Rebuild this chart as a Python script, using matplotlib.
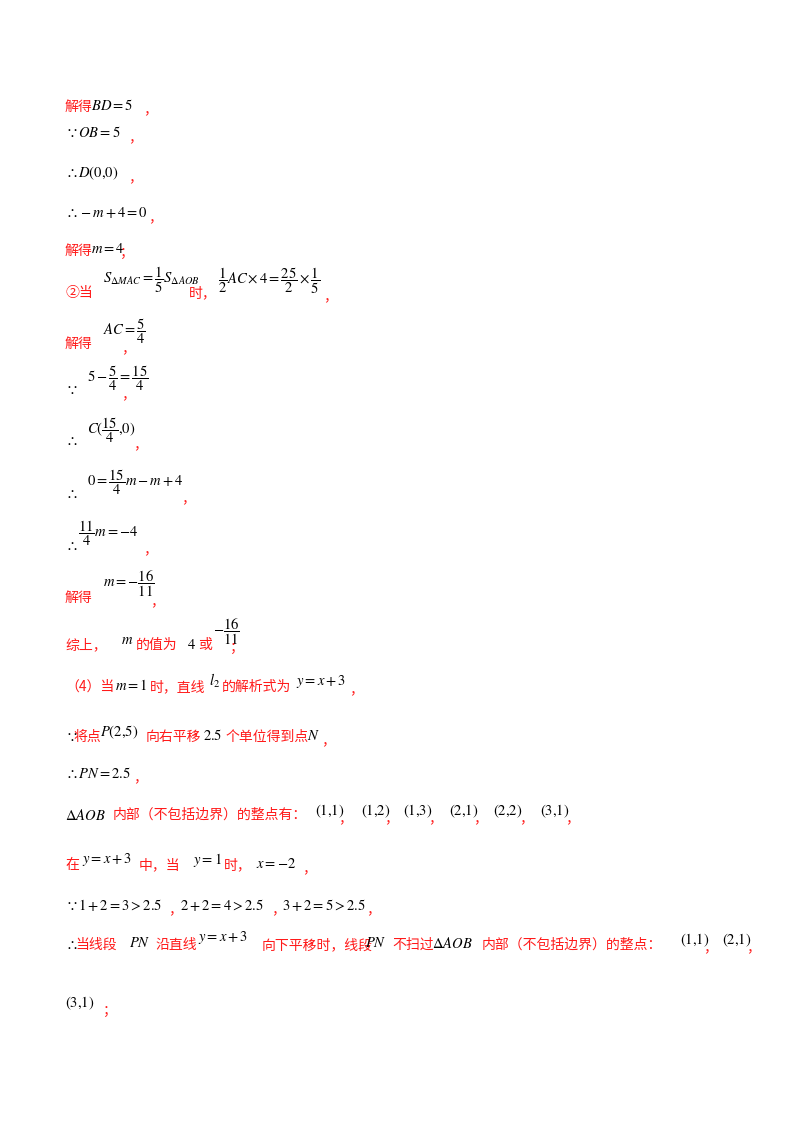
import matplotlib
matplotlib.use("Agg")
import matplotlib.pyplot as plt

plt.rcParams['mathtext.fontset'] = 'stix'
plt.rcParams['font.family'] = ['Noto Sans CJK SC', 'DejaVu Sans']

R = '#ff1a1a'
K = 'black'

# each segment: x px, y px, text, colour
segments = [
    (65, 107, "解得", R), (91, 105, r"$BD=5$", K), (143, 109, "，", R),
    (65, 133, r"$\because OB=5$", K), (128, 137, "，", R),
    (65, 173, r"$\therefore D(0{,}0)$", K), (128, 177, "，", R),
    (65, 213, r"$\therefore -m+4=0$", K), (148, 217, "，", R),
    (65, 251, "解得", R), (91, 249, r"$m=4$", K), (120, 253, "；", R),
    (65, 293, "②当", R), (103, 280, r"$S_{\Delta MAC}=\dfrac{1}{5}S_{\Delta AOB}$", K),
    (189, 293, "时，", R), (218, 281, r"$\dfrac{1}{2}AC\times 4=\dfrac{25}{2}\times\dfrac{1}{5}$", K),
    (323, 296, "，", R),
    (65, 344, "解得", R), (103, 331, r"$AC=\dfrac{5}{4}$", K), (121, 348, "，", R),
    (65, 390, r"$\because$", K), (87, 378, r"$5-\dfrac{5}{4}=\dfrac{15}{4}$", K), (121, 394, "，", R),
    (65, 441, r"$\therefore$", K), (87, 430, r"$C(\dfrac{15}{4}{,}0)$", K), (133, 444, "，", R),
    (65, 494, r"$\therefore$", K), (87, 482, r"$0=\dfrac{15}{4}m-m+4$", K), (181, 498, "，", R),
    (65, 546, r"$\therefore$", K), (78, 533, r"$\dfrac{11}{4}m=-4$", K), (143, 549, "，", R),
    (65, 598, "解得", R), (103, 584, r"$m=-\dfrac{16}{11}$", K), (150, 601, "，", R),
    (65, 645, "综上，", R), (121, 640, r"$m$", K), (136, 645, "的值为", R), (187, 645, "$4$", K),
    (198, 645, "或", R), (213, 632, r"$-\dfrac{16}{11}$", K), (230, 648, "；", R),
    (65, 687, "（4）当", R), (115, 686, r"$m=1$", K), (150, 687, "时，直线", R),
    (209, 681, r"$l_2$", K), (222, 687, "的解析式为", R), (296, 681, r"$y=x+3$", K), (349, 689, "，", R),
    (65, 737, r"$\because$", K), (73, 737, "将点", R), (100, 732, r"$P(2{,}5)$", K),
    (146, 737, "向右平移", R), (203, 736, "$2.5$", K), (226, 737, "个单位得到点", R),
    (307, 736, r"$N$", K), (321, 740, "，", R),
    (65, 773, r"$\therefore PN=2.5$", K), (133, 777, "，", R),
    (65, 815, r"$\Delta AOB$", K), (113, 815, "内部（不包括边界）的整点有：", R),
    (315, 811, "$(1{,}1)$", K), (338, 818, "，", R), (361, 811, "$(1{,}2)$", K), (384, 818, "，", R),
    (403, 811, "$(1{,}3)$", K), (428, 818, "，", R), (449, 811, "$(2{,}1)$", K), (473, 818, "，", R),
    (493, 811, "$(2{,}2)$", K), (519, 818, "，", R), (540, 811, "$(3{,}1)$", K), (565, 818, "，", R),
    (65, 865, "在", R), (82, 860, r"$y=x+3$", K), (139, 865, "中，当", R), (193, 860, r"$y=1$", K),
    (224, 865, "时，", R), (256, 864, r"$x=-2$", K), (302, 868, "，", R),
    (65, 905, r"$\because 1+2=3>2.5$", K), (168, 909, "，", R), (180, 905, r"$2+2=4>2.5$", K),
    (271, 909, "，", R), (282, 905, r"$3+2=5>2.5$", K), (366, 909, "，", R),
    (65, 945, r"$\therefore$", K), (75, 945, "当线段", R), (129, 943, r"$PN$", K), (156, 945, "沿直线", R),
    (198, 938, r"$y=x+3$", K), (262, 945, "向下平移时，线段", R), (365, 943, r"$PN$", K),
    (392, 945, "不扫过", R), (432, 943, r"$\Delta AOB$", K), (482, 945, "内部（不包括边界）的整点：", R),
    (680, 940, "$(1{,}1)$", K), (703, 947, "，", R), (722, 940, "$(2{,}1)$", K), (746, 947, "，", R),
    (65, 1003, "$(3{,}1)$", K), (103, 1011, "；", R),
]

W, H = 800, 1132
fig = plt.figure(figsize=(W / 100, H / 100), dpi=100)
fig.patch.set_facecolor('white')

for x, y, s, c in segments:
    is_math = s.startswith('$') and c == K
    fig.text(x / W, 1 - y / H, s, color=c, ha='left', va='center',
             fontsize=10.5 if is_math else 10)

fig.savefig('out.png', dpi=100, facecolor='white')
